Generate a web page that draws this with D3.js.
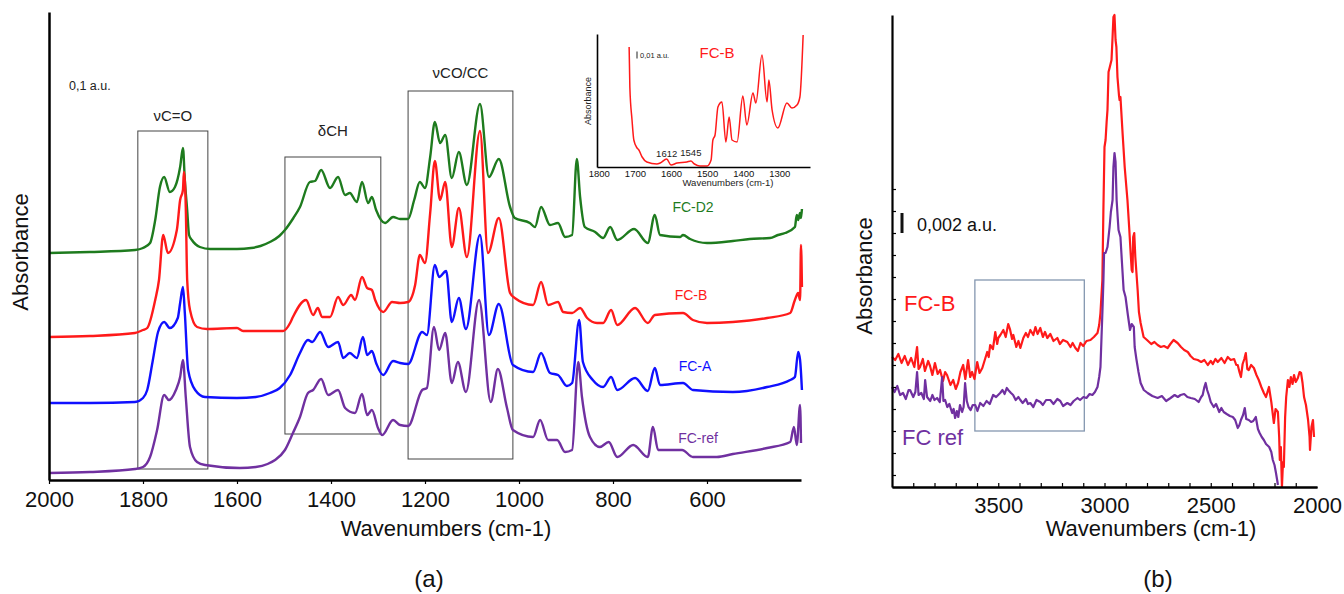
<!DOCTYPE html>
<html>
<head>
<meta charset="utf-8">
<script src="https://cdn.jsdelivr.net/npm/d3@7"></script>
<style>
  body { margin: 0; background: #fff; }
  text { font-family: "Liberation Sans", Arial, sans-serif; }
</style>
</head>
<body>
<svg id="chart" width="1344" height="594"></svg>
<script>
// ---- panel (a): main spectra, [wavenumber, absorbance a.u.] ----
const fcD2 = [[2000,0.227],[1913,0.228],[1817,0.230],[1800,0.232],[1785,0.237],[1774,0.260],[1764,0.293],[1755,0.303],[1743,0.288],[1732,0.293],[1721,0.313],[1715,0.332],[1711,0.300],[1706,0.270],[1702,0.245],[1696,0.240],[1679,0.233],[1657,0.231],[1600,0.231],[1570,0.232],[1550,0.234],[1530,0.238],[1510,0.244],[1498,0.250],[1480,0.262],[1466,0.273],[1445,0.298],[1434,0.299],[1421,0.310],[1402,0.292],[1385,0.303],[1370,0.285],[1360,0.287],[1345,0.278],[1334,0.298],[1321,0.277],[1313,0.283],[1304,0.270],[1285,0.257],[1268,0.263],[1253,0.261],[1236,0.261],[1223,0.280],[1211,0.298],[1200,0.292],[1189,0.323],[1179,0.358],[1168,0.337],[1157,0.345],[1143,0.302],[1128,0.328],[1111,0.295],[1083,0.376],[1064,0.303],[1043,0.321],[1019,0.273],[1009,0.262],[977,0.257],[966,0.253],[953,0.273],[934,0.255],[917,0.257],[902,0.243],[887,0.245],[877,0.321],[870,0.283],[860,0.253],[838,0.248],[821,0.242],[806,0.253],[791,0.240],[755,0.251],[726,0.237],[711,0.265],[700,0.245],[657,0.243],[651,0.245],[636,0.241],[600,0.237],[545,0.239],[509,0.241],[466,0.242],[449,0.245],[434,0.247],[413,0.253],[409,0.265],[406,0.260],[402,0.267],[400,0.262],[398,0.271]];
const fcB = [[2000,0.143],[1913,0.144],[1817,0.147],[1800,0.150],[1791,0.152],[1774,0.180],[1766,0.200],[1757,0.245],[1747,0.227],[1728,0.250],[1721,0.280],[1715,0.290],[1713,0.308],[1709,0.273],[1706,0.200],[1700,0.170],[1685,0.153],[1664,0.151],[1600,0.152],[1587,0.149],[1502,0.149],[1487,0.157],[1481,0.163],[1453,0.180],[1438,0.165],[1428,0.172],[1419,0.163],[1402,0.163],[1385,0.183],[1374,0.175],[1357,0.185],[1349,0.180],[1334,0.203],[1323,0.192],[1313,0.190],[1306,0.180],[1289,0.168],[1270,0.178],[1253,0.177],[1236,0.178],[1221,0.195],[1211,0.225],[1200,0.217],[1189,0.267],[1179,0.319],[1168,0.280],[1157,0.298],[1143,0.233],[1128,0.272],[1111,0.223],[1083,0.349],[1066,0.227],[1043,0.262],[1019,0.187],[1009,0.182],[970,0.175],[953,0.198],[938,0.175],[917,0.178],[906,0.168],[887,0.167],[870,0.172],[855,0.162],[834,0.157],[821,0.157],[804,0.170],[791,0.155],[753,0.172],[726,0.157],[711,0.165],[651,0.167],[630,0.160],[600,0.157],[545,0.158],[472,0.162],[423,0.167],[413,0.180],[406,0.187],[402,0.180],[400,0.235],[398,0.193]];
const fcA = [[2000,0.077],[1913,0.077],[1817,0.078],[1800,0.082],[1791,0.090],[1779,0.120],[1768,0.148],[1755,0.158],[1743,0.152],[1726,0.162],[1721,0.177],[1715,0.193],[1711,0.167],[1704,0.110],[1689,0.090],[1668,0.083],[1600,0.082],[1560,0.083],[1530,0.087],[1509,0.092],[1487,0.105],[1466,0.127],[1449,0.140],[1440,0.138],[1423,0.148],[1406,0.133],[1385,0.138],[1374,0.122],[1360,0.127],[1345,0.122],[1332,0.143],[1323,0.125],[1313,0.129],[1304,0.117],[1289,0.105],[1268,0.119],[1253,0.117],[1236,0.116],[1206,0.148],[1196,0.145],[1179,0.215],[1170,0.203],[1155,0.209],[1143,0.158],[1128,0.182],[1113,0.151],[1083,0.245],[1064,0.145],[1043,0.176],[1013,0.115],[970,0.108],[953,0.127],[934,0.107],[917,0.105],[898,0.094],[887,0.097],[872,0.160],[864,0.118],[843,0.100],[821,0.093],[804,0.103],[791,0.090],[753,0.102],[726,0.089],[711,0.112],[700,0.095],[651,0.097],[630,0.090],[545,0.088],[472,0.093],[423,0.100],[413,0.103],[406,0.128],[402,0.120],[398,0.090]];
const fcRef = [[2000,0.007],[1913,0.008],[1817,0.011],[1800,0.013],[1785,0.023],[1770,0.050],[1755,0.085],[1745,0.080],[1730,0.090],[1721,0.103],[1715,0.120],[1709,0.083],[1700,0.033],[1685,0.018],[1668,0.015],[1594,0.012],[1560,0.013],[1535,0.016],[1519,0.020],[1498,0.030],[1481,0.047],[1466,0.063],[1449,0.087],[1438,0.090],[1421,0.101],[1406,0.085],[1385,0.090],[1370,0.072],[1349,0.067],[1334,0.086],[1323,0.065],[1313,0.070],[1300,0.052],[1291,0.045],[1268,0.060],[1253,0.055],[1236,0.054],[1206,0.090],[1196,0.092],[1181,0.153],[1170,0.130],[1157,0.147],[1143,0.097],[1130,0.118],[1113,0.088],[1085,0.180],[1060,0.078],[1045,0.111],[1026,0.073],[1013,0.050],[970,0.043],[955,0.060],[938,0.040],[919,0.040],[902,0.028],[887,0.030],[874,0.118],[866,0.083],[849,0.043],[828,0.033],[809,0.038],[791,0.023],[757,0.035],[726,0.023],[715,0.053],[704,0.030],[653,0.030],[630,0.023],[579,0.023],[545,0.026],[472,0.032],[423,0.038],[415,0.053],[409,0.035],[402,0.075],[400,0.037]];

const ticksA = [2000, 1800, 1600, 1400, 1200, 1000, 800, 600];

// band boxes: wavenumber span and absorbance span
const bandsA = [
  { label: "νC=O",   from: 1811, to: 1662, top: 0.349, bottom: 0.011 },
  { label: "δCH",    from: 1498, to: 1294, top: 0.323, bottom: 0.046 },
  { label: "νCO/CC", from: 1236, to: 1013, top: 0.389, bottom: 0.021 }
];

// ---- inset: FC-B zoom 1800-1230 ----
const fcBInset = [[1716,0.120],[1714,0.080],[1708,0.047],[1703,0.027],[1694,0.019],[1689,0.017],[1680,0.010],[1667,0.005],[1639,0.003],[1630,0.004],[1612,0.008],[1600,0.002],[1583,0.004],[1556,0.005],[1545,0.006],[1535,0.003],[1520,0.001],[1500,0.001],[1489,0.007],[1484,0.027],[1478,0.032],[1470,0.060],[1459,0.065],[1448,0.025],[1439,0.050],[1431,0.027],[1417,0.025],[1401,0.071],[1390,0.042],[1373,0.074],[1365,0.064],[1348,0.112],[1334,0.065],[1329,0.087],[1320,0.057],[1304,0.039],[1279,0.064],[1265,0.059],[1251,0.062],[1243,0.070],[1234,0.132]];
const ticksInset = [1800, 1700, 1600, 1500, 1400, 1300];

// ---- panel (b): 4000-2000 region ----
const fcBHigh = [[4000,0.0130],[3985,0.0127],[3970,0.0133],[3955,0.0124],[3940,0.0131],[3925,0.0122],[3910,0.0129],[3895,0.0120],[3882,0.0140],[3875,0.0118],[3868,0.0120],[3855,0.0128],[3845,0.0116],[3830,0.0126],[3821,0.0121],[3810,0.0112],[3798,0.0124],[3785,0.0113],[3774,0.0117],[3760,0.0106],[3750,0.0115],[3741,0.0112],[3725,0.0102],[3712,0.0107],[3700,0.0098],[3689,0.0104],[3678,0.0115],[3665,0.0122],[3655,0.0108],[3642,0.0127],[3632,0.0110],[3623,0.0115],[3612,0.0108],[3599,0.0125],[3588,0.0114],[3575,0.0119],[3562,0.0128],[3552,0.0135],[3545,0.0130],[3538,0.0142],[3525,0.0138],[3514,0.0155],[3505,0.0143],[3500,0.0149],[3490,0.0152],[3476,0.0157],[3465,0.0150],[3453,0.0163],[3445,0.0158],[3435,0.0148],[3429,0.0152],[3415,0.0140],[3405,0.0146],[3396,0.0139],[3382,0.0149],[3370,0.0154],[3360,0.0150],[3349,0.0157],[3335,0.0152],[3325,0.0160],[3315,0.0153],[3302,0.0159],[3290,0.0150],[3280,0.0155],[3269,0.0149],[3255,0.0153],[3240,0.0146],[3222,0.0149],[3210,0.0143],[3195,0.0147],[3175,0.0145],[3160,0.0140],[3150,0.0144],[3137,0.0139],[3125,0.0136],[3113,0.0144],[3100,0.0141],[3085,0.0146],[3066,0.0147],[3050,0.0150],[3033,0.0154],[3025,0.0162],[3019,0.0174],[3010,0.0207],[3005,0.0280],[3000,0.0340],[2995,0.0347],[2990,0.0365],[2986,0.0377],[2981,0.0415],[2975,0.0420],[2967,0.0427],[2962,0.0450],[2958,0.0470],[2953,0.0472],[2948,0.0447],[2944,0.0440],[2939,0.0410],[2932,0.0392],[2929,0.0387],[2925,0.0390],[2915,0.0354],[2905,0.0320],[2892,0.0287],[2884,0.0260],[2877,0.0234],[2872,0.0217],[2868,0.0215],[2865,0.0250],[2860,0.0254],[2855,0.0230],[2850,0.0215],[2844,0.0197],[2838,0.0175],[2830,0.0164],[2816,0.0150],[2800,0.0147],[2780,0.0143],[2765,0.0145],[2750,0.0142],[2735,0.0140],[2720,0.0141],[2703,0.0139],[2690,0.0143],[2675,0.0147],[2656,0.0144],[2640,0.0140],[2625,0.0137],[2608,0.0135],[2595,0.0131],[2580,0.0128],[2561,0.0127],[2545,0.0125],[2530,0.0127],[2514,0.0122],[2500,0.0126],[2490,0.0123],[2478,0.0128],[2467,0.0125],[2450,0.0129],[2435,0.0124],[2420,0.0130],[2406,0.0127],[2390,0.0128],[2380,0.0122],[2373,0.0122],[2365,0.0115],[2358,0.0110],[2350,0.0123],[2342,0.0128],[2335,0.0134],[2328,0.0118],[2321,0.0117],[2310,0.0122],[2297,0.0119],[2285,0.0112],[2274,0.0107],[2262,0.0100],[2250,0.0094],[2240,0.0090],[2226,0.0100],[2215,0.0085],[2203,0.0064],[2195,0.0078],[2184,0.0075],[2178,0.0050],[2175,0.0027],[2170,0.0040],[2165,0.0000],[2160,0.0025],[2156,0.0020],[2150,0.0070],[2145,0.0090],[2137,0.0107],[2130,0.0100],[2123,0.0110],[2115,0.0103],[2108,0.0112],[2100,0.0105],[2090,0.0109],[2082,0.0115],[2075,0.0114],[2068,0.0104],[2061,0.0090],[2052,0.0082],[2042,0.0067],[2035,0.0050],[2033,0.0037],[2026,0.0060],[2019,0.0067],[2014,0.0050]];
const fcRefHigh = [[4000,0.0100],[3988,0.0095],[3975,0.0101],[3962,0.0092],[3948,0.0094],[3935,0.0088],[3922,0.0097],[3915,0.0097],[3900,0.0090],[3890,0.0095],[3882,0.0115],[3875,0.0092],[3862,0.0094],[3850,0.0088],[3844,0.0107],[3835,0.0090],[3820,0.0086],[3810,0.0092],[3800,0.0087],[3788,0.0089],[3775,0.0085],[3764,0.0110],[3758,0.0086],[3750,0.0087],[3740,0.0080],[3730,0.0083],[3717,0.0074],[3710,0.0078],[3703,0.0069],[3695,0.0076],[3688,0.0070],[3680,0.0082],[3670,0.0075],[3663,0.0080],[3656,0.0104],[3648,0.0086],[3640,0.0080],[3630,0.0077],[3620,0.0082],[3608,0.0082],[3598,0.0076],[3585,0.0084],[3570,0.0081],[3555,0.0086],[3540,0.0083],[3524,0.0092],[3510,0.0090],[3491,0.0094],[3480,0.0097],[3470,0.0093],[3460,0.0099],[3453,0.0097],[3440,0.0094],[3430,0.0092],[3418,0.0087],[3405,0.0090],[3396,0.0087],[3385,0.0084],[3370,0.0088],[3360,0.0083],[3349,0.0084],[3335,0.0080],[3320,0.0087],[3302,0.0085],[3290,0.0082],[3275,0.0087],[3255,0.0087],[3240,0.0083],[3222,0.0088],[3208,0.0086],[3195,0.0081],[3175,0.0084],[3160,0.0082],[3145,0.0086],[3127,0.0089],[3115,0.0087],[3099,0.0090],[3085,0.0089],[3070,0.0093],[3057,0.0092],[3045,0.0095],[3033,0.0100],[3025,0.0110],[3019,0.0120],[3014,0.0150],[3010,0.0174],[3005,0.0207],[3002,0.0234],[2995,0.0234],[2986,0.0240],[2976,0.0260],[2970,0.0275],[2962,0.0287],[2958,0.0320],[2953,0.0334],[2948,0.0325],[2943,0.0287],[2938,0.0270],[2934,0.0257],[2925,0.0250],[2918,0.0225],[2910,0.0197],[2901,0.0190],[2890,0.0172],[2880,0.0157],[2872,0.0163],[2862,0.0160],[2858,0.0140],[2850,0.0128],[2840,0.0115],[2830,0.0104],[2815,0.0097],[2797,0.0094],[2775,0.0091],[2750,0.0089],[2730,0.0091],[2710,0.0086],[2689,0.0089],[2670,0.0092],[2655,0.0090],[2642,0.0092],[2625,0.0093],[2610,0.0090],[2594,0.0089],[2575,0.0088],[2557,0.0085],[2545,0.0090],[2538,0.0092],[2530,0.0100],[2524,0.0104],[2517,0.0097],[2509,0.0092],[2500,0.0085],[2486,0.0080],[2475,0.0083],[2460,0.0075],[2450,0.0079],[2439,0.0075],[2425,0.0073],[2410,0.0071],[2396,0.0070],[2385,0.0067],[2373,0.0059],[2365,0.0062],[2358,0.0067],[2348,0.0072],[2340,0.0079],[2333,0.0068],[2321,0.0067],[2310,0.0065],[2300,0.0066],[2288,0.0070],[2278,0.0058],[2270,0.0054],[2260,0.0050],[2250,0.0047],[2240,0.0043],[2225,0.0040],[2215,0.0035],[2208,0.0027],[2200,0.0022],[2193,0.0014],[2186,0.0005],[2184,0.0002]];

const ticksB = [3500, 3000, 2500, 2000];
const minorTicksB = [3900, 3800, 3700, 3600, 3500, 3400, 3300, 3200, 3100, 3000, 2900, 2800, 2700, 2600, 2500, 2400, 2300, 2200, 2100];
const yTicksB = [0.0012, 0.0034, 0.0056, 0.0078, 0.0100, 0.0122, 0.0144, 0.0166, 0.0188, 0.0210, 0.0232, 0.0254, 0.0276, 0.0298];
const boxB = { from: 3610, to: 3095, top: 0.0207, bottom: 0.0056 };

const svg = d3.select("#chart")

function styleAxis(g, width, size) {
  g.select(".domain").attr("stroke", "#000").attr("stroke-width", width)
  g.selectAll(".tick line").attr("stroke", "#000").attr("stroke-width", 1.2)
  g.selectAll(".tick text").attr("font-size", size).attr("fill", "#111")
    .attr("font-family", "'Liberation Sans', Arial, sans-serif")
}

// ================= panel (a) =================
const xA = d3.scaleLinear().domain([2000, 400]).range([49, 801])
const yA = d3.scaleLinear().domain([0, 0.468]).range([480, 12])

const lineA = d3.line().x(d => xA(d[0])).y(d => yA(d[1])).curve(d3.curveMonotoneX)

const seriesA = [
  { name: "FC-D2", color: "#1e7b1e", data: fcD2, lx: 693, ly: 212 },
  { name: "FC-B", color: "#ff1a1a", data: fcB, lx: 691, ly: 300 },
  { name: "FC-A", color: "#1010ff", data: fcA, lx: 695, ly: 371 },
  { name: "FC-ref", color: "#7030a0", data: fcRef, lx: 698, ly: 443 }
]

const gA = svg.append("g").attr("class", "panel-a")

gA.selectAll(".band").data(bandsA).enter()
  .append("rect")
  .attr("class", "band")
  .attr("x", d => xA(d.from))
  .attr("y", d => yA(d.top))
  .attr("width", d => xA(d.to) - xA(d.from))
  .attr("height", d => yA(d.bottom) - yA(d.top))
  .attr("fill", "none")
  .attr("stroke", "#444")
  .attr("stroke-width", 1)

const bandLabelY = { "νC=O": 121, "δCH": 136, "νCO/CC": 78 }
gA.selectAll(".band-label").data(bandsA).enter()
  .append("text")
  .attr("class", "band-label")
  .attr("x", d => (xA(d.from) + xA(d.to)) / 2)
  .attr("y", d => bandLabelY[d.label])
  .attr("text-anchor", "middle")
  .attr("font-size", 15)
  .attr("fill", "#222")
  .text(d => d.label)

gA.selectAll(".spec").data(seriesA).enter()
  .append("path")
  .attr("class", "spec")
  .attr("d", d => lineA(d.data))
  .attr("fill", "none")
  .attr("stroke", d => d.color)
  .attr("stroke-width", 2.4)
  .attr("stroke-linejoin", "round")

gA.selectAll(".spec-label").data(seriesA).enter()
  .append("text")
  .attr("x", d => d.lx)
  .attr("y", d => d.ly)
  .attr("text-anchor", "middle")
  .attr("font-size", 14)
  .attr("fill", d => d.color)
  .text(d => d.name)

gA.append("g")
  .attr("transform", "translate(0,480)")
  .call(d3.axisBottom(xA).tickValues(ticksA).tickSizeInner(4).tickSizeOuter(0).tickPadding(7).tickFormat(d3.format("d")))
  .call(g => styleAxis(g, 2.5, 22))

gA.append("g")
  .attr("transform", "translate(49,0)")
  .call(d3.axisLeft(yA).tickValues([]).tickSizeOuter(0))
  .call(g => styleAxis(g, 2.5, 22))

gA.append("text")
  .attr("transform", "translate(28,252) rotate(-90)")
  .attr("text-anchor", "middle")
  .attr("font-size", 22)
  .attr("fill", "#111")
  .text("Absorbance")

gA.append("text")
  .attr("x", 446).attr("y", 536)
  .attr("text-anchor", "middle")
  .attr("font-size", 22)
  .attr("fill", "#111")
  .text("Wavenumbers (cm-1)")

gA.append("text")
  .attr("x", 69).attr("y", 90)
  .attr("font-size", 12.5)
  .attr("fill", "#222")
  .text("0,1 a.u.")

// ---- inset ----
const xI = d3.scaleLinear().domain([1805, 1215]).range([597, 810])
const yI = d3.scaleLinear().domain([0, 0.133]).range([167, 34])
const lineI = d3.line().x(d => xI(d[0])).y(d => yI(d[1])).curve(d3.curveMonotoneX)

const gI = svg.append("g").attr("class", "inset")

gI.append("path")
  .attr("d", lineI(fcBInset))
  .attr("fill", "none")
  .attr("stroke", "#ff1a1a")
  .attr("stroke-width", 1.5)

gI.append("g")
  .attr("transform", "translate(0,167)")
  .call(d3.axisBottom(xI).tickValues(ticksInset).tickSize(0).tickPadding(3).tickFormat(d3.format("d")))
  .call(g => styleAxis(g, 1.6, 9.5))

gI.append("g")
  .attr("transform", "translate(597,0)")
  .call(d3.axisLeft(yI).tickValues([]).tickSizeOuter(0))
  .call(g => styleAxis(g, 1.6, 9.5))

gI.append("text")
  .attr("x", 728).attr("y", 186)
  .attr("text-anchor", "middle")
  .attr("font-size", 9.5)
  .attr("fill", "#222")
  .text("Wavenumbers (cm-1)")

gI.append("text")
  .attr("transform", "translate(591,101) rotate(-90)")
  .attr("text-anchor", "middle")
  .attr("font-size", 9)
  .attr("fill", "#222")
  .text("Absorbance")

gI.append("text")
  .attr("x", 717).attr("y", 58)
  .attr("text-anchor", "middle")
  .attr("font-size", 15)
  .attr("fill", "#ff1a1a")
  .text("FC-B")

gI.append("line")
  .attr("x1", 637).attr("x2", 637)
  .attr("y1", yI(0.1155)).attr("y2", yI(0.1085))
  .attr("stroke", "#222").attr("stroke-width", 1)

gI.append("text")
  .attr("x", 640).attr("y", 58)
  .attr("font-size", 7.5)
  .attr("fill", "#222")
  .text("0,01 a.u.")

gI.selectAll(".peak-label").data([1612, 1545]).enter()
  .append("text")
  .attr("x", d => xI(d))
  .attr("y", d => d === 1612 ? 157 : 156)
  .attr("text-anchor", "middle")
  .attr("font-size", 9.5)
  .attr("fill", "#222")
  .text(d => d)

// ================= panel (b) =================
const xB = d3.scaleLinear().domain([4000, 2000]).range([892, 1317])
const yB = d3.scaleLinear().domain([0, 0.0472]).range([487, 15])
const lineB = d3.line().x(d => xB(d[0])).y(d => yB(d[1]))

const gB = svg.append("g").attr("class", "panel-b")

gB.append("rect")
  .attr("x", xB(boxB.from))
  .attr("y", yB(boxB.top))
  .attr("width", xB(boxB.to) - xB(boxB.from))
  .attr("height", yB(boxB.bottom) - yB(boxB.top))
  .attr("fill", "none")
  .attr("stroke", "#8497b0")
  .attr("stroke-width", 1.3)

const seriesB = [
  { name: "FC-B", color: "#ff1a1a", data: fcBHigh, lx: 904, ly: 311 },
  { name: "FC ref", color: "#7030a0", data: fcRefHigh, lx: 902, ly: 445 }
]

gB.selectAll(".spec").data(seriesB).enter()
  .append("path")
  .attr("d", d => lineB(d.data))
  .attr("fill", "none")
  .attr("stroke", d => d.color)
  .attr("stroke-width", 2.2)
  .attr("stroke-linejoin", "round")

gB.selectAll(".spec-label").data(seriesB).enter()
  .append("text")
  .attr("x", d => d.lx)
  .attr("y", d => d.ly)
  .attr("font-size", 22)
  .attr("fill", d => d.color)
  .text(d => d.name)

gB.append("g")
  .attr("transform", "translate(0,487)")
  .call(d3.axisBottom(xB).tickValues(minorTicksB).tickSizeInner(-4).tickSizeOuter(0).tickFormat(""))
  .call(g => styleAxis(g, 2.2, 22))

gB.append("g")
  .attr("transform", "translate(0,487)")
  .call(d3.axisBottom(xB).tickValues(ticksB).tickSize(0).tickPadding(10).tickFormat(d3.format("d")))
  .call(g => styleAxis(g, 2.2, 22))

gB.append("g")
  .attr("transform", `translate(${xB(4000)},0)`)
  .call(d3.axisRight(yB).tickValues(yTicksB).tickSizeInner(4).tickSizeOuter(0).tickFormat(""))
  .call(g => styleAxis(g, 2.2, 22))

gB.append("text")
  .attr("transform", "translate(872,276) rotate(-90)")
  .attr("text-anchor", "middle")
  .attr("font-size", 22)
  .attr("fill", "#111")
  .text("Absorbance")

gB.append("text")
  .attr("x", 1151).attr("y", 536)
  .attr("text-anchor", "middle")
  .attr("font-size", 22)
  .attr("fill", "#111")
  .text("Wavenumbers (cm-1)")

gB.append("line")
  .attr("x1", 902).attr("x2", 902)
  .attr("y1", yB(0.0274)).attr("y2", yB(0.0254))
  .attr("stroke", "#111").attr("stroke-width", 3)

gB.append("text")
  .attr("x", 917).attr("y", 231)
  .attr("font-size", 18)
  .attr("fill", "#111")
  .text("0,002 a.u.")

// panel captions
svg.selectAll(".caption").data([{ t: "(a)", x: 429 }, { t: "(b)", x: 1158 }]).enter()
  .append("text")
  .attr("x", d => d.x).attr("y", 587)
  .attr("text-anchor", "middle")
  .attr("font-size", 24)
  .attr("fill", "#111")
  .text(d => d.t)
</script>
</body>
</html>
